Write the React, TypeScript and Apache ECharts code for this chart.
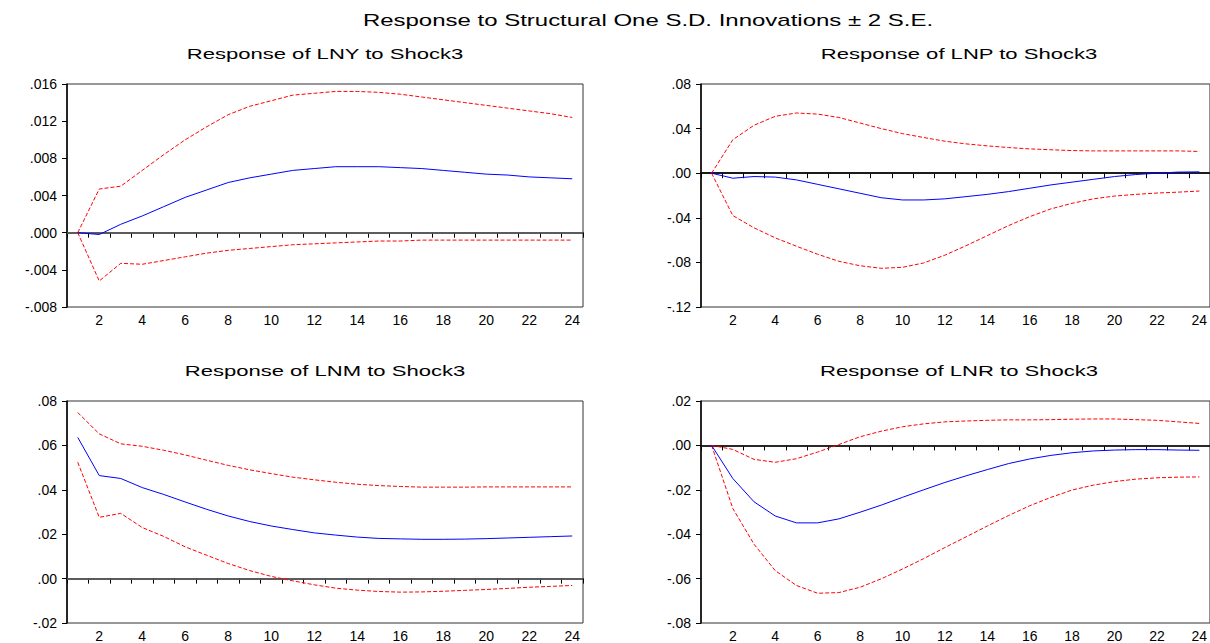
import React, { useEffect, useRef } from "react";
import * as echarts from "echarts";

const categories = ["1","2","3","4","5","6","7","8","9","10","11","12","13","14","15","16","17","18","19","20","21","22","23","24"];

const mainTitle = "Response to Structural One S.D. Innovations \u00b1 2 S.E.";

// LNY
const lnyResp = [0, -0.0002, 0.0009, 0.0018, 0.0028, 0.0038, 0.0046, 0.0054, 0.0059, 0.0063, 0.0067, 0.0069, 0.0071, 0.0071, 0.0071, 0.0070, 0.0069, 0.0067, 0.0065, 0.0063, 0.0062, 0.0060, 0.0059, 0.0058];
const lnyUpper = [0, 0.0047, 0.0050, 0.0067, 0.0084, 0.0100, 0.0114, 0.0127, 0.0136, 0.0142, 0.0148, 0.0150, 0.0152, 0.0152, 0.0151, 0.0149, 0.0146, 0.0143, 0.0140, 0.0137, 0.0134, 0.0131, 0.0128, 0.0124];
const lnyLower = [0, -0.0052, -0.0033, -0.0034, -0.0030, -0.0026, -0.0022, -0.0019, -0.0017, -0.0015, -0.0013, -0.0012, -0.0011, -0.0010, -0.0009, -0.0009, -0.0008, -0.0008, -0.0008, -0.0008, -0.0008, -0.0008, -0.0008, -0.0008];

// LNP
const lnpResp = [0, -0.0045, -0.003, -0.0035, -0.006, -0.010, -0.014, -0.018, -0.022, -0.024, -0.024, -0.023, -0.021, -0.019, -0.0165, -0.0135, -0.0105, -0.008, -0.0055, -0.003, -0.0012, 0, 0.001, 0.0012];
const lnpUpper = [0, 0.030, 0.043, 0.051, 0.054, 0.053, 0.050, 0.045, 0.040, 0.0355, 0.032, 0.0287, 0.0263, 0.0245, 0.023, 0.0218, 0.021, 0.0203, 0.020, 0.020, 0.020, 0.020, 0.020, 0.0195];
const lnpLower = [0, -0.038, -0.049, -0.058, -0.0655, -0.0727, -0.079, -0.083, -0.0853, -0.0844, -0.0805, -0.0735, -0.065, -0.056, -0.047, -0.039, -0.032, -0.027, -0.023, -0.0205, -0.019, -0.0178, -0.017, -0.016];

// LNM
const lnmResp = [0.0636, 0.0464, 0.0451, 0.041, 0.0379, 0.0345, 0.0312, 0.0282, 0.0257, 0.0237, 0.0221, 0.0206, 0.0196, 0.0187, 0.0181, 0.0179, 0.0177, 0.0177, 0.0178, 0.018, 0.0183, 0.0186, 0.0189, 0.0192];
const lnmUpper = [0.0748, 0.0652, 0.0607, 0.0596, 0.0578, 0.0557, 0.0533, 0.051, 0.049, 0.0473, 0.0457, 0.0445, 0.0434, 0.0425, 0.0419, 0.0415, 0.0412, 0.0412, 0.0412, 0.0413, 0.0413, 0.0413, 0.0413, 0.0413];
const lnmLower = [0.0524, 0.0276, 0.0294, 0.023, 0.019, 0.0143, 0.0105, 0.0068, 0.0036, 0.001, -0.001, -0.0028, -0.0043, -0.0052, -0.0058, -0.0061, -0.006, -0.0057, -0.0053, -0.0049, -0.0044, -0.0039, -0.0035, -0.0031];

// LNR
const lnrResp = [0, -0.0149, -0.0254, -0.0318, -0.0349, -0.0349, -0.0331, -0.0301, -0.0269, -0.0234, -0.020, -0.0167, -0.0137, -0.0109, -0.0082, -0.0061, -0.0045, -0.0033, -0.0025, -0.0021, -0.0019, -0.0019, -0.0021, -0.0022];
const lnrUpper = [0, -0.0018, -0.0063, -0.0076, -0.006, -0.003, 0.0004, 0.0039, 0.0064, 0.0084, 0.0097, 0.0106, 0.011, 0.0113, 0.0115, 0.0115, 0.0116, 0.0118, 0.0119, 0.0119, 0.0116, 0.0113, 0.0106, 0.0099];
const lnrLower = [0, -0.0284, -0.0445, -0.0564, -0.0631, -0.0666, -0.0663, -0.0639, -0.0601, -0.0557, -0.051, -0.046, -0.0412, -0.0363, -0.0316, -0.0272, -0.0234, -0.0201, -0.0179, -0.0163, -0.0152, -0.0146, -0.0143, -0.0142];

const panelTitles = ["Response of LNY to Shock3", "Response of LNP to Shock3", "Response of LNM to Shock3", "Response of LNR to Shock3"];
const yMins = [-0.008, -0.12, -0.02, -0.08];
const yMaxs = [0.016, 0.08, 0.08, 0.02];
const yIntervals = [0.004, 0.04, 0.02, 0.02];
const yDecimals = [3, 2, 2, 2];

const respData = [lnyResp, lnpResp, lnmResp, lnrResp];
const upperData = [lnyUpper, lnpUpper, lnmUpper, lnrUpper];
const lowerData = [lnyLower, lnpLower, lnmLower, lnrLower];

const FONT = "'Liberation Sans', Arial, sans-serif";

export default function App() {
  const ref = useRef<HTMLDivElement>(null);
  useEffect(() => {
    document.body.style.margin = "0";
    if (!ref.current) return;
    const chart = echarts.init(ref.current, null, { renderer: "svg" });
    const lefts = [67, 701, 67, 701];
    const tops = [84, 84, 401, 401];
    const W = 516;
    const H = 223;
    const zeroColors = ["#666", "#111", "#666", "#222"];
    const fmt = (d: number) => (v: number) => {
      const s = v.toFixed(d);
      return s.replace(/^(-?)0\./, "$1.");
    };
    const grids = lefts.map((l, i) => ({
      left: l, top: tops[i], width: W, height: H,
      show: true, borderColor: "#333", borderWidth: 1, backgroundColor: "transparent",
    }));
    const xAxes = lefts.map((_, i) => ({
      type: "category", gridIndex: i, data: categories, boundaryGap: true,
      axisLine: { show: true, lineStyle: { color: "#000", width: 1.5 } },
      axisTick: { show: true, interval: 0, length: 5, alignWithLabel: false, lineStyle: { color: "#000" } },
      axisLabel: { interval: (idx: number) => idx % 2 === 1, color: "#000", fontSize: 14, fontFamily: FONT, margin: 6 },
      splitLine: { show: false },
    }));
    const yAxes = lefts.map((_, i) => ({
      type: "value", gridIndex: i, min: yMins[i], max: yMaxs[i], interval: yIntervals[i],
      axisLine: { show: true, lineStyle: { color: "#000", width: 1.5 } },
      axisTick: { show: true, length: 5, lineStyle: { color: "#000" } },
      axisLabel: { formatter: fmt(yDecimals[i]), color: "#000", fontSize: 14, fontFamily: FONT, margin: 10 },
      splitLine: { show: false },
    }));
    const series: any[] = [];
    for (let i = 0; i < 4; i++) {
      series.push({
        type: "line", xAxisIndex: i, yAxisIndex: i, data: upperData[i], showSymbol: false, symbol: "none",
        lineStyle: { color: "#ff0000", width: 1, type: [4, 2] }, z: 3,
      });
      series.push({
        type: "line", xAxisIndex: i, yAxisIndex: i, data: lowerData[i], showSymbol: false, symbol: "none",
        lineStyle: { color: "#ff0000", width: 1, type: [4, 2] }, z: 3,
      });
      series.push({
        type: "line", xAxisIndex: i, yAxisIndex: i, data: respData[i], showSymbol: false, symbol: "none",
        lineStyle: { color: "#0000ff", width: 1 }, z: 4,
        markLine: {
          silent: true, symbol: ["none", "none"], label: { show: false },
          lineStyle: { color: zeroColors[i], type: "solid", width: 1.5 },
          data: [{ yAxis: 0 }], z: 2,
        },
      });
    }
    const graphics: any[] = [
      {
        type: "text", x: 648, y: 21, scaleX: 1.5,
        style: { text: mainTitle, font: `16px ${FONT}`, fill: "#000", textAlign: "center", textVerticalAlign: "middle" },
      },
    ];
    panelTitles.forEach((t, i) => {
      graphics.push({
        type: "text", x: lefts[i] + W / 2, y: tops[i] - 30, scaleX: 1.47,
        style: { text: t, font: `15px ${FONT}`, fill: "#000", textAlign: "center", textVerticalAlign: "middle" },
      });
    });
    chart.setOption({
      animation: false,
      backgroundColor: "#fff",
      grid: grids,
      xAxis: xAxes,
      yAxis: yAxes,
      series,
      graphic: graphics,
    });
    return () => chart.dispose();
  }, []);
  return <div ref={ref} style={{ width: 1210, height: 643, position: "fixed", left: 0, top: 0 }} />;
}
